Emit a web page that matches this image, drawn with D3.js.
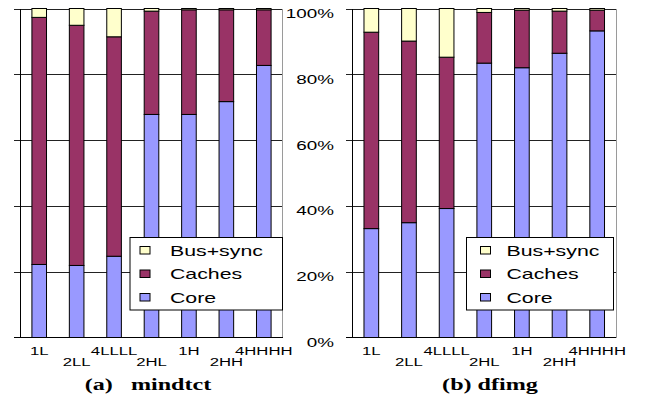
<!DOCTYPE html>
<html>
<head>
<meta charset="utf-8">
<script src="https://cdn.jsdelivr.net/npm/d3@7"></script>
<style>
body{margin:0;background:#fff;}
svg{display:block;}
</style>
</head>
<body>
<div id="container"></div>
<script>
// data (percent of total)
const categories = ["1L","2LL","4LLLL","2HL","1H","2HH","4HHHH"];
const seriesNames = ["Core","Caches","Bus+sync"];
const mindtctCore   = [22.2, 21.9, 24.7, 67.8, 67.8, 71.7, 82.7];
const mindtctCaches = [75.1, 73.0, 66.7, 31.4, 31.8, 27.9, 16.9];
const mindtctBus    = [2.7, 5.1, 8.6, 0.8, 0.4, 0.4, 0.4];
const dfimgCore   = [33.1, 34.9, 39.2, 83.4, 82.0, 86.4, 93.2];
const dfimgCaches = [59.7, 55.2, 46.0, 15.4, 17.5, 12.8, 6.3];
const dfimgBus    = [7.2, 9.9, 14.8, 1.2, 0.5, 0.8, 0.5];
const yTicks = [0, 20, 40, 60, 80, 100];
const yTickLabels = ["0%","20%","40%","60%","80%","100%"];
const titles = ["(a)   mindtct", "(b) dfimg"];

const w = 649, h = 406;
const colors = {"Core":"#9999ff","Caches":"#993366","Bus+sync":"#ffffcc"};
const sx = 1.42;   // the original is stretched sideways
const sans = "'Liberation Sans', Arial, sans-serif";

const svg = d3.select("#container").append("svg")
  .attr("width", w).attr("height", h);

const y = d3.scaleLinear().domain([0, 100]).range([337.5, 8.5]);

function stretchedText(g, x, yy, str, size, anchor, scale, family, weight){
  return g.append("text")
    .attr("transform", "translate(" + x + "," + yy + ") scale(" + scale + ",1)")
    .attr("text-anchor", anchor)
    .style("font-family", family)
    .style("font-size", size + "px")
    .style("font-weight", weight || "normal")
    .style("white-space", "pre")
    .attr("fill", "#000")
    .text(str);
}

function panel(x0, x1, core, caches, bus, legendBox, title, titleX){
  const g = svg.append("g");
  const x = d3.scaleBand().domain(categories).range([x0, x1])
    .paddingInner(0.61).paddingOuter(0.305);

  // gridlines + outer ticks
  const grid = g.append("g")
    .attr("transform", "translate(" + x0 + ",0)")
    .call(d3.axisLeft(y).tickValues(yTicks.slice(1)).tickSize(-(x1 - x0)).tickFormat(""));
  grid.select(".domain").remove();
  grid.selectAll(".tick line").attr("x1", -7).attr("stroke", "#222")
    .attr("shape-rendering", "crispEdges");

  // right border of plot area
  g.append("line").attr("x1", x1).attr("x2", x1).attr("y1", y(100)).attr("y2", y(0))
    .attr("stroke", "#9a9a9a").attr("shape-rendering", "crispEdges");

  const rows = categories.map((c, i) => ({cat: c, "Core": core[i], "Caches": caches[i], "Bus+sync": bus[i]}));
  const stack = d3.stack().keys(seriesNames)(rows);

  g.selectAll("g.series").data(stack).enter().append("g")
    .attr("fill", d => colors[d.key])
    .selectAll("rect").data(d => d).enter().append("rect")
    .attr("x", d => x(d.data.cat))
    .attr("width", x.bandwidth())
    .attr("y", d => y(d[1]))
    .attr("height", d => y(d[0]) - y(d[1]))
    .attr("stroke", "#000").attr("stroke-width", 1);

  // axes lines
  g.append("line").attr("x1", x0).attr("x2", x0).attr("y1", y(100)).attr("y2", y(0))
    .attr("stroke", "#000").attr("shape-rendering", "crispEdges");
  g.append("line").attr("x1", x0 - 7).attr("x2", x1).attr("y1", y(0)).attr("y2", y(0))
    .attr("stroke", "#000").attr("shape-rendering", "crispEdges");

  // staggered category labels
  categories.forEach((c, i) => {
    const cx = x(c) + x.bandwidth() / 2;
    stretchedText(g, cx, i % 2 === 0 ? 355 : 365.5, c, 11, "middle", 1.52, sans);
  });

  // legend
  const lg = g.append("g").attr("transform", "translate(" + legendBox[0] + ",237.5)");
  lg.append("rect").attr("width", legendBox[1]).attr("height", 72.5)
    .attr("fill", "#fff").attr("stroke", "#000");
  seriesNames.slice().reverse().forEach((s, i) => {
    const cy = 12.5 + i * 23.5;
    lg.append("rect").attr("x", legendBox[2]).attr("y", cy - 3.5).attr("width", 10).attr("height", 7.5)
      .attr("fill", colors[s]).attr("stroke", "#000");
    stretchedText(lg, 40, cy + 5.5, s, 15, "start", sx, sans);
  });

  stretchedText(g, titleX, 390, title, 17, "middle", sx, "'Liberation Serif', 'Times New Roman', serif", "bold");
}

panel(20.5, 282.5, mindtctCore, mindtctCaches, mindtctBus, [130, 152.5, 10], titles[0], 148);
panel(352.5, 616, dfimgCore, dfimgCaches, dfimgBus, [466.5, 147, 14], titles[1], 490);

// shared percentage labels between the panels
yTicks.forEach((t, i) => {
  stretchedText(svg, 334, y(t) + 9.5, yTickLabels[i], 13, "end", 1.45, sans);
});
</script>
</body>
</html>
